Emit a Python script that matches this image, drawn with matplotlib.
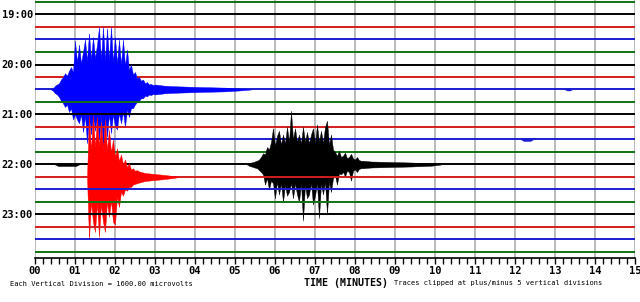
import numpy as np
import matplotlib.pyplot as plt

# helicorder layout: 21 traces of 15 minutes, 1 division between traces
n_traces = 21
trace_colors = ["#137013", "#000000", "#d41c1c", "#1c1cd4"]  # green, black, red, blue
hour_traces = [1, 5, 9, 13, 17]
hour_labels = ["19:00", "20:00", "21:00", "22:00", "23:00"]
minute_ticks = list(range(16))
minute_labels = ["%02d" % m for m in minute_ticks]
clip_div = 5.0
step = 0.05  # minutes between envelope samples

# 20:30 trace (blue): peak up / down per sample, in divisions
blue_start = 0.40
blue_up = [0, 0.1, 0.3, 0.4, 0.5, 0.8, 1.0, 1.3, 1.1, 1.5, 1.8, 1.4, 3.9,
           2.2, 3.6, 2.1, 3.0, 4.0, 2.3, 4.5, 2.4, 4.2, 2.5, 3.6, 5.0, 2.4,
           5.0, 2.3, 4.9, 2.4, 5.0, 2.2, 4.2, 2.1, 4.0, 2.0, 4.0, 1.9, 3.2,
           1.6, 2.0, 1.2, 1.4, 0.9, 1.0, 0.7, 0.8, 0.5, 0.6, 0.4, 0.45, 0.35, 0.4]
blue_down = [0, 0.1, 0.3, 0.4, 0.6, 0.9, 1.1, 1.4, 1.2, 1.8, 1.5, 2.4, 2.0,
             2.4, 2.7, 2.0, 3.4, 2.1, 4.3, 2.2, 3.6, 2.1, 3.3, 2.2, 4.0, 2.2,
             4.6, 2.1, 3.8, 2.0, 3.5, 2.0, 2.9, 3.2, 1.9, 2.7, 1.8, 3.0, 1.6,
             2.2, 1.5, 1.5, 1.2, 1.0, 0.9, 0.7, 0.7, 0.5, 0.55, 0.4, 0.45, 0.35, 0.4]
blue_tail_t = [3.25, 3.6, 4.1, 4.75, 5.1, 5.4]
blue_tail = [0.3, 0.25, 0.2, 0.15, 0.08, 0]

# 22:15 trace (red)
red_start = 1.30
red_up = [0, 4.9, 2.2, 4.9, 2.4, 4.8, 2.5, 4.4, 2.3, 4.6, 2.2, 3.8, 2.0,
          3.0, 1.6, 2.3, 1.3, 1.8, 1.0, 1.4, 0.8, 1.1, 0.6, 0.7, 0.5, 0.55, 0.45]
red_down = [0, 5.0, 2.0, 3.6, 4.4, 2.1, 4.8, 2.2, 3.6, 4.4, 2.0, 3.2, 1.9,
            3.6, 3.8, 1.6, 2.4, 1.2, 1.5, 1.0, 1.1, 0.8, 0.8, 0.6, 0.55, 0.5, 0.45]
red_tail_t = [2.75, 3.0, 3.25, 3.45, 3.6]
red_tail = [0.32, 0.24, 0.16, 0.08, 0]

# 22:00 trace (black)
black_start = 5.30
black_up = [0, 0.1, 0.15, 0.2, 0.25, 0.3, 0.4, 0.6, 0.9, 0.8,
            1.4, 1.2, 1.8, 2.9, 1.5, 2.3, 2.7, 1.6, 2.4, 1.7,
            3.0, 1.8, 4.3, 2.0, 2.9, 1.8, 2.4, 1.7, 3.0, 1.8,
            2.6, 1.7, 2.4, 2.9, 1.7, 3.2, 1.8, 2.7, 1.7, 3.0,
            3.5, 1.6, 2.4, 1.2, 1.0, 0.7, 1.1, 0.6, 0.7, 0.95,
            0.5, 0.6, 0.85, 0.5, 0.4, 0.6, 0.35, 0.3, 0.3]
black_down = [0, 0.1, 0.15, 0.2, 0.25, 0.3, 0.45, 0.6, 0.8, 1.6,
              1.1, 2.0, 1.3, 1.5, 2.7, 1.4, 2.4, 1.5, 3.0, 1.6,
              2.5, 2.2, 1.5, 2.7, 1.5, 2.4, 3.0, 1.5, 4.5, 1.6,
              2.7, 2.4, 1.5, 3.2, 2.5, 1.5, 4.3, 1.5, 2.4, 1.4,
              4.0, 1.4, 2.2, 1.1, 0.9, 1.6, 0.7, 0.8, 0.6, 0.95,
              0.5, 0.6, 1.3, 0.5, 0.4, 0.6, 0.35, 0.3, 0.3]
black_tail_t = [8.4, 8.9, 9.4, 9.9, 10.15]
black_tail = [0.24, 0.2, 0.16, 0.1, 0]

# small wiggles on otherwise quiet traces
blip_trace = [13, 11, 7]
blip_t = [[0.5, 0.58, 1.02, 1.1], [12.15, 12.22, 12.38, 12.45], [13.25, 13.3, 13.38, 13.42]]
blip_amp = [[0, 0.12, 0.12, 0], [0, 0.12, 0.12, 0], [0, 0.08, 0.08, 0]]

events = {
    7: (blue_start, blue_up, blue_down, blue_tail_t, blue_tail, "#0000ff"),
    13: (black_start, black_up, black_down, black_tail_t, black_tail, "#000000"),
    14: (red_start, red_up, red_down, red_tail_t, red_tail, "#ff0000"),
}

mono = "DejaVu Sans Mono"
fig = plt.figure(figsize=(6.4, 3.02), dpi=100)
ax = fig.add_axes([35 / 640, 44 / 302, 600 / 640, 258 / 302])

for m in minute_ticks:
    ax.axvline(m, color="#a8a8a8", lw=1.1, zorder=1)

for k in range(n_traces):
    z = 3 + k
    ax.plot([0, 15], [k, k], color=trace_colors[k % 4], lw=1.4, zorder=z,
            solid_capstyle="butt")
    if k in events:
        t0, up, dn, tail_t, tail, col = events[k]
        t = t0 + step * np.arange(len(up))
        t = np.concatenate([t, tail_t])
        up = np.minimum(np.concatenate([up, tail]), clip_div)
        dn = np.minimum(np.concatenate([dn, tail]), clip_div)
        ax.fill_between(t, k - up, k + dn, color=col, lw=0.3, zorder=z)
    if k in blip_trace:
        i = blip_trace.index(k)
        a = np.array(blip_amp[i])
        ax.fill_between(blip_t[i], k - a, k + a, color=trace_colors[k % 4],
                        lw=0.3, zorder=z)

ax.set_xlim(0, 15)
ax.set_ylim(20.48, -0.16)
for s in ["left", "right", "top"]:
    ax.spines[s].set_visible(False)
ax.spines["bottom"].set_linewidth(1.2)

ax.set_xticks(minute_ticks)
ax.set_xticklabels(minute_labels, fontfamily=mono, fontweight="bold", fontsize=7.5)
ax.set_xticks(np.arange(0, 15.01, 0.2), minor=True)
ax.tick_params(axis="x", which="both", direction="out", length=4.5, width=1,
               pad=1.5, color="black")
ax.set_yticks(hour_traces)
ax.set_yticklabels(hour_labels, fontfamily=mono, fontweight="bold", fontsize=7.5)
ax.tick_params(axis="y", length=0, pad=1.5)

fig.text(346 / 640, 1 - 283 / 302, "TIME (MINUTES)", ha="center", va="center",
         fontfamily=mono, fontweight="bold", fontsize=7.2)
fig.text(394 / 640, 1 - 283 / 302, "Traces clipped at plus/minus 5 vertical divisions",
         ha="left", va="center", fontfamily=mono, fontsize=5)
fig.text(10 / 640, 1 - 284 / 302, "Each Vertical Division = 1600.00 microvolts",
         ha="left", va="center", fontfamily=mono, fontsize=5)

fig.savefig("out.png", dpi=100)
